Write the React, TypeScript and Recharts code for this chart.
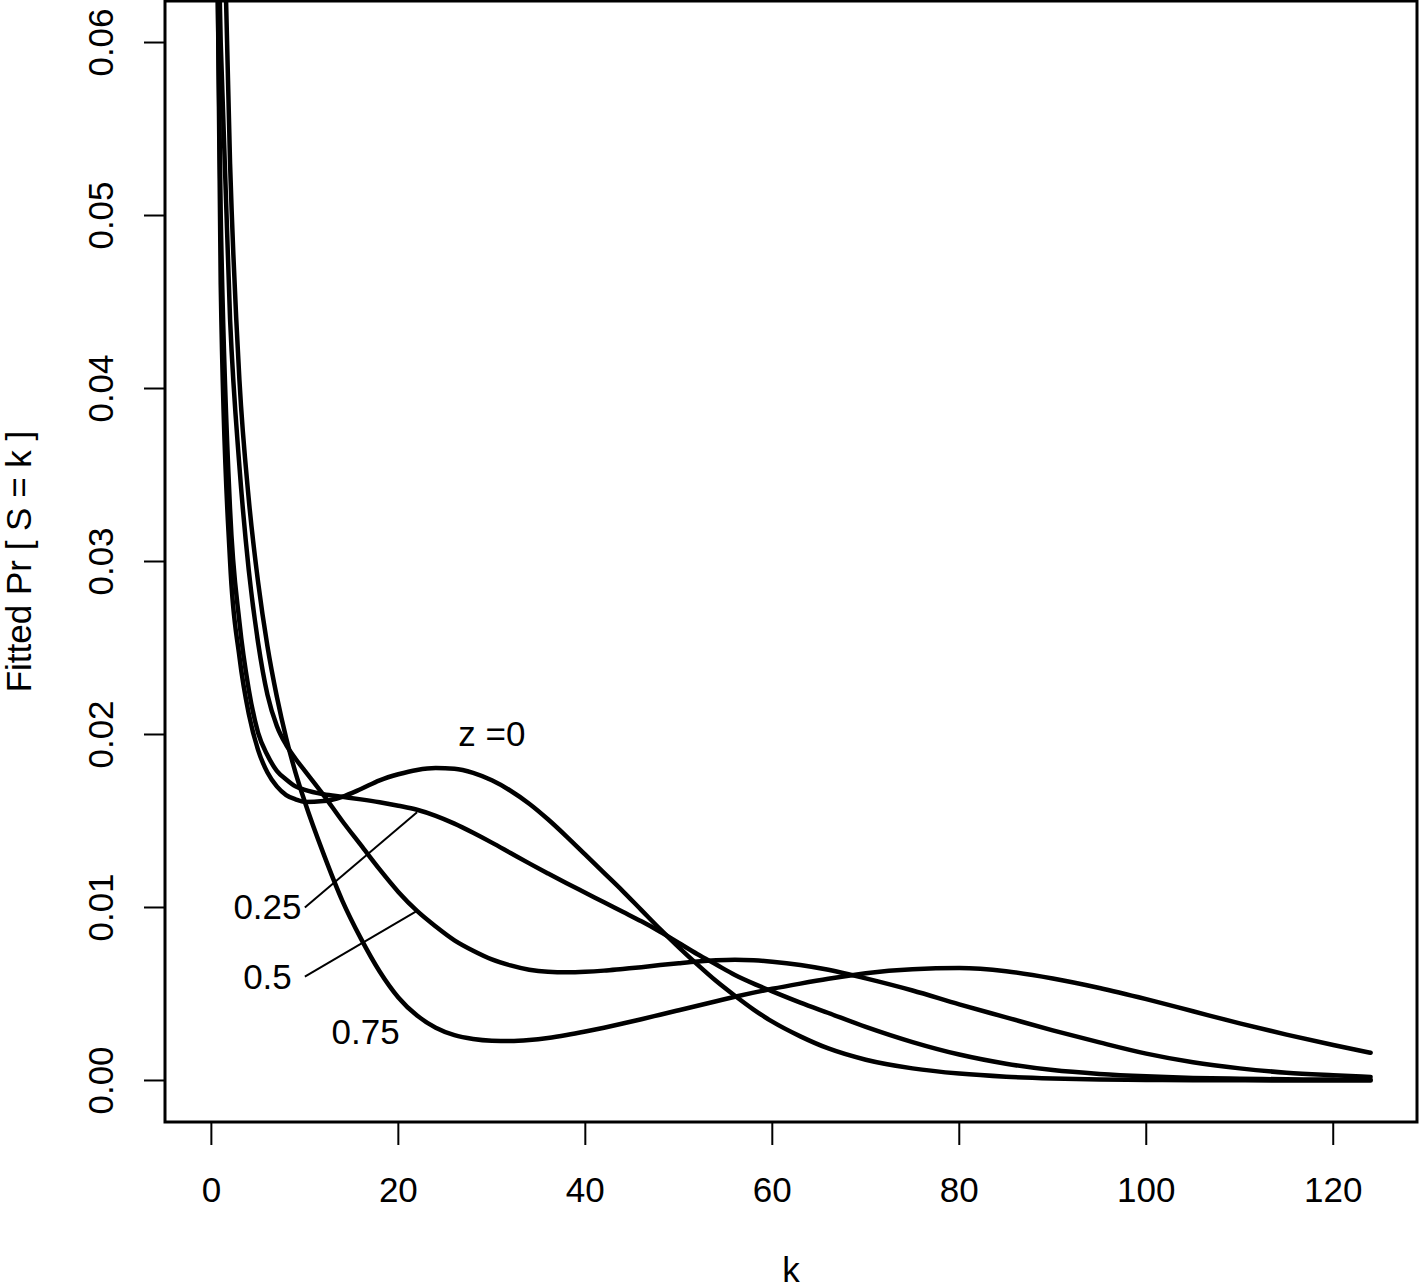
import React from "react";
import {
  ComposedChart,
  Line,
  XAxis,
  YAxis,
  ReferenceArea,
  ReferenceLine,
  ReferenceDot,
} from "recharts";

const K_VALUES = [
  0, 1, 2, 3, 4, 5, 6, 7, 8, 9, 10,
  12, 14, 16, 18, 20, 22, 24, 26, 28, 30, 32, 34, 36, 38, 40,
  42, 44, 46, 48, 50, 52, 54, 56, 58, 60,
  63, 66, 70,
  75, 80, 85, 90, 95, 100, 105, 110, 115, 120,
  124,
];

const PR_Z0 = [
  0.1, 0.046, 0.03, 0.0245, 0.0212, 0.0191, 0.0178, 0.017, 0.0165, 0.01625, 0.0161,
  0.01615, 0.0164, 0.01685, 0.01735, 0.0177, 0.01795, 0.01806, 0.01802, 0.01778, 0.01735, 0.01675, 0.016, 0.0151, 0.0141, 0.01305,
  0.012, 0.01095, 0.00985, 0.00875, 0.0077, 0.0067, 0.00575, 0.0049, 0.0041, 0.0034,
  0.00255, 0.00185, 0.0012,
  0.0007, 0.0004, 0.00022, 0.00012, 0.00006, 0.00003, 0.000015, 0.000008, 0.000004, 0.000002,
  0.000001,
];

const PR_Z25 = [
  0.09, 0.05, 0.033, 0.0265, 0.0226, 0.0201, 0.0188, 0.0179, 0.0174, 0.017, 0.0168,
  0.01655, 0.0164, 0.01625, 0.01608, 0.01588, 0.01565, 0.0153, 0.01485, 0.01432, 0.01375, 0.01315, 0.01255, 0.01197, 0.0114, 0.01085,
  0.0103, 0.00975, 0.0092, 0.0086, 0.00795, 0.0073, 0.0067, 0.0061, 0.0056, 0.00515,
  0.0045, 0.0039, 0.0031,
  0.00222, 0.0015, 0.00097, 0.0006, 0.00038, 0.00024, 0.00015, 0.0001, 0.00007, 0.00005,
  0.00004,
];

const PR_Z50 = [
  0.085, 0.06, 0.044, 0.0355, 0.0295, 0.0253, 0.0223, 0.0205, 0.0194, 0.0186, 0.0179,
  0.0165, 0.015, 0.0136, 0.0122, 0.0109, 0.0098, 0.0089, 0.0081, 0.0075, 0.007, 0.00665, 0.0064, 0.00628, 0.00625, 0.00628,
  0.00635, 0.00645, 0.00655, 0.00667, 0.00678, 0.00688, 0.00695, 0.00698, 0.00695, 0.00687,
  0.00668, 0.0064, 0.0059,
  0.0052, 0.0044, 0.00365, 0.0029, 0.0022, 0.00155, 0.00105, 0.0007, 0.00045, 0.0003,
  0.0002,
];

const PR_Z75 = [
  0.11, 0.075, 0.053, 0.0405, 0.0336, 0.0288, 0.0251, 0.0222, 0.0198, 0.0178, 0.0161,
  0.0131, 0.0104, 0.0082, 0.0063, 0.0048, 0.00375, 0.00305, 0.00262, 0.0024, 0.0023, 0.00228, 0.00234, 0.00246, 0.00263, 0.00283,
  0.00305, 0.00329, 0.00354, 0.0038, 0.00406, 0.00432, 0.00458, 0.00484, 0.00508, 0.0053,
  0.0056, 0.00588, 0.0062,
  0.00643, 0.0065, 0.00632, 0.0059, 0.00535, 0.0047, 0.004, 0.0033, 0.00265, 0.00205,
  0.0016,
];

const X_TICKS = [0, 20, 40, 60, 80, 100, 120];
const Y_TICKS = [0, 0.01, 0.02, 0.03, 0.04, 0.05, 0.06];
const X_DOMAIN: [number, number] = [-4.96, 128.96];
const Y_DOMAIN: [number, number] = [-0.0024, 0.0624];

// text() labels, in data coordinates
const CURVE_LABELS = [
  { text: "z =0", k: 30, pr: 0.02 },
  { text: "0.25", k: 6, pr: 0.01 },
  { text: "0.5", k: 6, pr: 0.006 },
  { text: "0.75", k: 16.5, pr: 0.0028 },
];

// segments() from label to curve
const LEADERS = [
  { k1: 10, pr1: 0.01, k2: 22, pr2: 0.0155 },
  { k1: 10, pr1: 0.006, k2: 22, pr2: 0.0098 },
];

const SERIES = [
  { key: "z0", values: PR_Z0 },
  { key: "z25", values: PR_Z25 },
  { key: "z50", values: PR_Z50 },
  { key: "z75", values: PR_Z75 },
];

const FONT = '"Liberation Sans", Arial, Helvetica, sans-serif';
const FONT_SIZE = 35;

const chartData = K_VALUES.map((k, i) => {
  const row: Record<string, number> = { k };
  SERIES.forEach((s) => {
    row[s.key] = s.values[i];
  });
  return row;
});

function XTick(props: any) {
  const { x, y, payload } = props;
  return (
    <text x={x} y={y + 55} textAnchor="middle" fontFamily={FONT} fontSize={FONT_SIZE} fill="#000">
      {payload.value}
    </text>
  );
}

function YTick(props: any) {
  const { x, y, payload } = props;
  return (
    <text
      transform={`translate(${x - 29}, ${y}) rotate(-90)`}
      textAnchor="middle"
      fontFamily={FONT}
      fontSize={FONT_SIZE}
      fill="#000"
    >
      {Number(payload.value).toFixed(2)}
    </text>
  );
}

export default function App() {
  return (
    <div style={{ position: "absolute", left: 0, top: 0, background: "#fff" }}>
      <ComposedChart
        width={1419}
        height={1288}
        data={chartData}
        margin={{ top: 1, right: 2, bottom: 0, left: 0 }}
      >
        <XAxis
          dataKey="k"
          type="number"
          domain={X_DOMAIN}
          ticks={X_TICKS}
          interval={0}
          height={166}
          axisLine={false}
          tickSize={23}
          tickLine={{ stroke: "#000", strokeWidth: 2 }}
          tick={<XTick />}
          label={{
            content: (p: any) => (
              <text
                x={p.viewBox.x + p.viewBox.width / 2}
                y={p.viewBox.y + p.viewBox.height - 6}
                textAnchor="middle"
                fontFamily={FONT}
                fontSize={FONT_SIZE}
                fill="#000"
              >
                k
              </text>
            ),
          }}
        />
        <YAxis
          type="number"
          domain={Y_DOMAIN}
          allowDataOverflow
          ticks={Y_TICKS}
          interval={0}
          width={165}
          axisLine={false}
          tickSize={21}
          tickLine={{ stroke: "#000", strokeWidth: 2 }}
          tick={<YTick />}
          label={{
            content: (p: any) => (
              <text
                transform={`translate(${p.viewBox.x + 31}, ${p.viewBox.y + p.viewBox.height / 2}) rotate(-90)`}
                textAnchor="middle"
                fontFamily={FONT}
                fontSize={FONT_SIZE}
                fill="#000"
              >
                Fitted Pr [ S = k ]
              </text>
            ),
          }}
        />
        {SERIES.map((s) => (
          <Line
            key={s.key}
            dataKey={s.key}
            type="monotone"
            stroke="#000"
            strokeWidth={4.5}
            strokeLinecap="round"
            strokeLinejoin="round"
            dot={false}
            activeDot={false}
            isAnimationActive={false}
          />
        ))}
        {LEADERS.map((l, i) => (
          <ReferenceLine
            key={`leader-${i}`}
            segment={[
              { x: l.k1, y: l.pr1 },
              { x: l.k2, y: l.pr2 },
            ]}
            stroke="#000"
            strokeWidth={2}
            ifOverflow="visible"
          />
        ))}
        {CURVE_LABELS.map((c) => (
          <ReferenceDot
            key={c.text}
            x={c.k}
            y={c.pr}
            r={1}
            ifOverflow="visible"
            shape={(p: any) => (
              <text
                x={p.cx}
                y={p.cy + 12}
                textAnchor="middle"
                fontFamily={FONT}
                fontSize={FONT_SIZE}
                fill="#000"
              >
                {c.text}
              </text>
            )}
          />
        ))}
        <ReferenceArea
          x1={X_DOMAIN[0]}
          x2={X_DOMAIN[1]}
          y1={Y_DOMAIN[0]}
          y2={Y_DOMAIN[1]}
          fill="none"
          stroke="#000"
          strokeWidth={3}
          ifOverflow="visible"
        />
      </ComposedChart>
    </div>
  );
}
